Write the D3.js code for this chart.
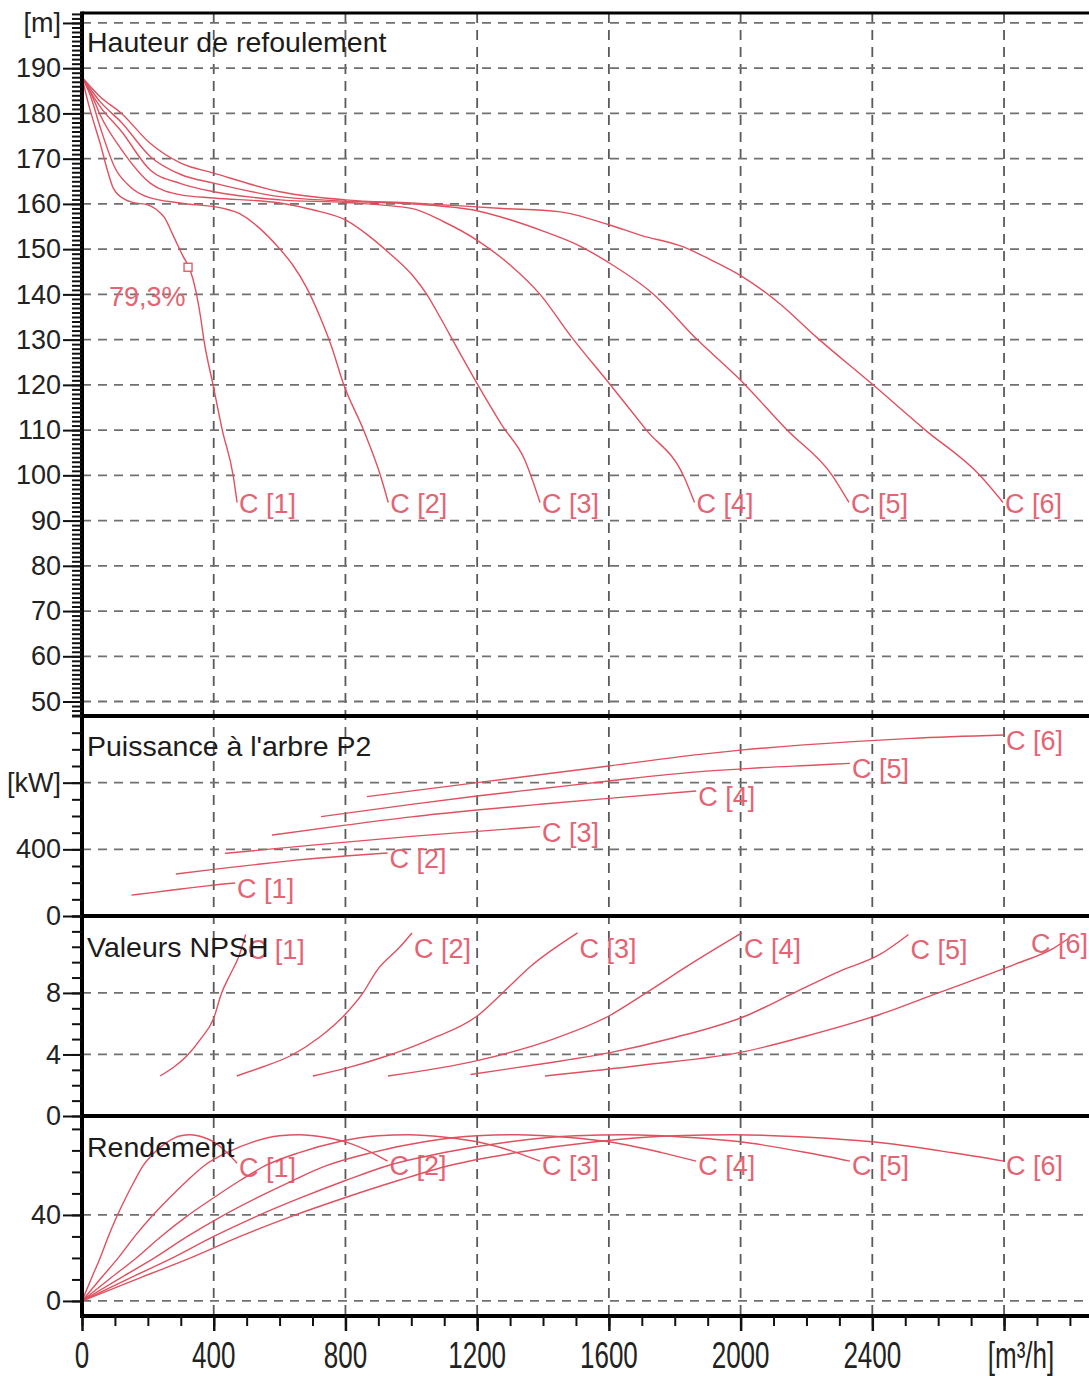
<!DOCTYPE html>
<html><head><meta charset="utf-8">
<script src="https://cdn.jsdelivr.net/npm/d3@7"></script>
<style>
body{margin:0;background:#fff}
text{font-family:"Liberation Sans",Arial,sans-serif}
</style>
</head><body>
<svg id="chart" width="1089" height="1376"></svg>
<script>
// ---------------- DATA ----------------
const seriesLabels = ["C [1]","C [2]","C [3]","C [4]","C [5]","C [6]"];
const panelTitles = ["Hauteur de refoulement","Puissance à l'arbre P2","Valeurs NPSH","Rendement"];

const xTickValues = [0,400,800,1200,1600,2000,2400,2800];
const xTickLabels = ["0","400","800","1200","1600","2000","2400","[m³/h]"];

const headTickValues = [50,60,70,80,90,100,110,120,130,140,150,160,170,180,190,200];
const headTickLabels = ["50","60","70","80","90","100","110","120","130","140","150","160","170","180","190","[m]"];
const powerTickValues = [0,400,800];
const powerTickLabels = ["0","400","[kW]"];
const npshTickValues = [0,4,8];
const npshTickLabels = ["0","4","8"];
const effTickValues = [0,40];
const effTickLabels = ["0","40"];

// Head [m] vs Q [m3/h]
const headC1 = [[0,188],[20,182],[40,177],[55,173.4],[75,168],[95,163.5],[130,161],[156,160.3],[200,159.8],[227,158.7],[250,157],[277,153],[307,148.4],[328,145.5],[345,141],[360,135],[370,130],[398,120],[426,110],[459,100],[471,94]];
const headC2 = [[0,188],[25,184],[55,177],[100,168],[146,163.8],[200,161.5],[298,160.2],[429,159],[480,157.8],[530,155.2],[601,150],[640,146.5],[682,141.5],[723,135],[760,128],[793,120.4],[855,110],[906,100],[930,94]];
const headC3 = [[0,188],[30,184],[55,179.7],[120,172],[207,164.6],[300,162],[400,161.3],[601,160.2],[700,158.7],[804,156.3],[870,153],[935,149],[1006,144],[1047,140],[1087,135],[1140,128],[1199,120.4],[1276,111],[1344,103.5],[1391,94]];
const headC4 = [[0,188],[55,181.5],[120,176],[207,167.5],[300,164.5],[400,162.7],[601,160.9],[800,160.3],[1000,159],[1100,156],[1199,152],[1300,146.5],[1391,140],[1482,131],[1600,120.4],[1714,110],[1828,99.7],[1860,94]];
const headC5 = [[0,188],[55,182.6],[120,178],[207,170.5],[300,166.5],[400,164.6],[601,161.6],[800,160.6],[1000,160],[1199,158.5],[1300,156.5],[1400,154],[1503,151],[1600,147],[1731,140.3],[1868,130],[2000,121],[2141,110],[2278,100],[2329,94]];
const headC6 = [[0,188],[55,183.7],[120,180],[207,173.4],[300,169],[400,166.8],[601,162.7],[800,160.9],[1000,160.2],[1276,159],[1447,158.3],[1600,155.4],[1700,153],[1822,150.6],[1900,148],[2004,144],[2118,138],[2231,130.5],[2396,120.4],[2561,110],[2720,100.5],[2797,94]];

// Shaft power P2 [kW]
const powC1 = [[150,125],[220,142],[300,162],[380,181],[465,198]];
const powC2 = [[285,252],[400,280],[500,302],[650,335],[800,360],[928,378]];
const powC3 = [[434,376],[700,425],[1000,478],[1200,508],[1391,536]];
const powC4 = [[577,486],[800,545],[1000,595],[1200,636],[1400,672],[1600,706],[1865,750]];
const powC5 = [[726,596],[1000,670],[1200,720],[1400,765],[1600,810],[1877,866],[2029,886],[2232,906],[2332,916]];
const powC6 = [[865,716],[1200,800],[1600,900],[1877,970],[2000,995],[2340,1046],[2520,1066],[2800,1086]];

// NPSH [m]
const npC1 = [[237,2.6],[280,3.2],[318,3.9],[360,5.0],[399,6.3],[424,8.0],[450,9.2],[475,10.3],[497,11.8]];
const npC2 = [[470,2.6],[550,3.2],[632,3.9],[720,5.1],[799,6.6],[850,7.9],[897,9.5],[966,11.0],[1002,11.9]];
const npC3 = [[701,2.6],[800,3.1],[925,3.9],[1060,5.0],[1200,6.5],[1277,8.0],[1361,9.7],[1505,11.9]];
const npC4 = [[929,2.6],[1200,3.6],[1431,5.0],[1600,6.5],[1713,8.0],[1850,9.9],[2004,11.9]];
const npC5 = [[1180,2.7],[1400,3.4],[1600,4.1],[1800,5.1],[2015,6.5],[2162,8.0],[2300,9.4],[2423,10.5],[2510,11.8]];
const npC6 = [[1406,2.6],[1700,3.3],[2015,4.2],[2200,5.2],[2423,6.6],[2600,8.0],[2838,9.9],[2950,10.9],[3000,11.6]];

// Efficiency [%]
const effC1 = [[0,0],[30,11],[55,20],[80,30],[105,39],[133,48],[160,56],[186,63],[220,69],[260,74],[300,76.8],[330,77.3],[370,76],[400,74],[440,69],[471,64]];
const effC2 = [[0,0],[60,11],[110,20],[160,30],[210,39],[266,48],[320,56],[372,63],[440,69],[520,74],[600,76.8],[660,77.3],[740,76],[800,74],[880,69],[928,65]];
const effC3 = [[0,0],[90,11],[165,20],[240,30],[315,39],[400,48],[480,56],[558,63],[660,69],[780,74],[900,76.8],[990,77.3],[1110,76],[1200,74],[1320,69],[1391,65]];
const effC4 = [[0,0],[120,11],[220,20],[320,30],[420,39],[532,48],[640,56],[744,63],[880,69],[1040,74],[1200,76.8],[1320,77.3],[1480,76],[1600,74],[1760,69],[1865,65]];
const effC5 = [[0,0],[150,11],[275,20],[400,30],[525,39],[665,48],[800,56],[930,63],[1100,69],[1300,74],[1500,76.8],[1650,77.3],[1850,76],[2000,74],[2200,69],[2332,65]];
const effC6 = [[0,0],[180,11],[330,20],[480,30],[630,39],[798,48],[960,56],[1116,63],[1320,69],[1560,74],[1800,76.8],[1980,77.3],[2220,76],[2400,74],[2640,69],[2800,65]];

// Best efficiency point marker on C [1]
const bepQ = 322;
const bepHead = 146;
const bepLabel = "79,3%";

// ---------------- LAYOUT ----------------
const svg = d3.select("#chart");
const X0 = 82, X1 = 1089;
const RED = "#e0505f", LABEL_RED = "#e46473";

const x = d3.scaleLinear().domain([0, 3058]).range([X0, X1]);
const yHead = d3.scaleLinear().domain([46.8, 202.2]).range([716, 13]);
const yPow  = d3.scaleLinear().domain([0, 1200]).range([916, 716]);
const yNpsh = d3.scaleLinear().domain([0, 13]).range([1116, 916]);
const yEff  = d3.scaleLinear().domain([-7, 86]).range([1316, 1116]);

const panels = [
  {y:yHead, ticks:headTickValues, labels:headTickLabels, grid:headTickValues, minor:d3.range(47,203,1),
   series:[headC1,headC2,headC3,headC4,headC5,headC6], title:panelTitles[0], titleY:52, dy:11},
  {y:yPow, ticks:powerTickValues, labels:powerTickLabels, grid:[400,800], minor:d3.range(0,1201,100),
   series:[powC1,powC2,powC3,powC4,powC5,powC6], title:panelTitles[1], titleY:756, dy:15},
  {y:yNpsh, ticks:npshTickValues, labels:npshTickLabels, grid:[4,8], minor:d3.range(0,14,1),
   series:[npC1,npC2,npC3,npC4,npC5,npC6], title:panelTitles[2], titleY:957, dy:25},
  {y:yEff, ticks:effTickValues, labels:effTickLabels, grid:[0,40], minor:d3.range(0,81,10),
   series:[effC1,effC2,effC3,effC4,effC5,effC6], title:panelTitles[3], titleY:1157, dy:14}
];

// ---- gridlines ----
const gGrid = svg.append("g");
xTickValues.filter(v => v > 0).forEach(v => {
  gGrid.append("line").attr("x1", x(v)).attr("x2", x(v)).attr("y1", 13).attr("y2", 1316)
    .attr("stroke", "#5a5a5a").attr("stroke-width", 1.8).attr("stroke-dasharray", "10,7");
});
panels.forEach(p => {
  p.grid.forEach(v => {
    gGrid.append("line").attr("x1", X0).attr("x2", X1).attr("y1", p.y(v)).attr("y2", p.y(v))
      .attr("stroke", "#707070").attr("stroke-width", 1.8).attr("stroke-dasharray", "9,7");
  });
});

// ---- curves ----
const gCurves = svg.append("g");
panels.forEach((p, pi) => {
  const line = d3.line().x(d => x(d[0])).y(d => p.y(d[1])).curve(d3.curveMonotoneX);
  p.series.forEach((s, si) => {
    gCurves.append("path").attr("d", line(s)).attr("fill", "none")
      .attr("stroke", RED).attr("stroke-width", 1.4);
    const end = s[s.length - 1];
    const ex = x(end[0]), ey = p.y(end[1]);
    const t = gCurves.append("text").text(seriesLabels[si])
      .attr("font-size", 27).attr("fill", LABEL_RED);
    if (ex + 60 > X1) {
      t.attr("x", X1 - 1).attr("y", ey + 15).attr("text-anchor", "end");
    } else {
      t.attr("x", ex + 2).attr("y", ey + p.dy);
    }
  });
});

// BEP marker
gCurves.append("rect").attr("x", x(bepQ) - 4).attr("y", yHead(bepHead) - 4).attr("width", 8).attr("height", 8)
  .attr("fill", "#fff").attr("stroke", RED).attr("stroke-width", 1.3);
gCurves.append("text").text(bepLabel).attr("x", 109).attr("y", 306)
  .attr("font-size", 27).attr("fill", LABEL_RED);

// ---- frame lines ----
const gFrame = svg.append("g");
gFrame.append("line").attr("x1", X0).attr("x2", X1).attr("y1", 13).attr("y2", 13).attr("stroke", "#000").attr("stroke-width", 3);
[716, 916, 1116, 1316].forEach(yv => {
  gFrame.append("line").attr("x1", X0).attr("x2", X1).attr("y1", yv).attr("y2", yv).attr("stroke", "#000").attr("stroke-width", 4);
});
gFrame.append("line").attr("x1", X0).attr("x2", X0).attr("y1", 11.5).attr("y2", 1318).attr("stroke", "#000").attr("stroke-width", 4);

// ---- left axes ----
panels.forEach(p => {
  const minorAxis = d3.axisLeft(p.y).tickValues(p.minor).tickSize(10).tickFormat("");
  const gm = svg.append("g").attr("transform", `translate(${X0},0)`).call(minorAxis);
  gm.select(".domain").remove();
  gm.selectAll(".tick line").attr("stroke", "#111").attr("stroke-width", 2);

  const majorAxis = d3.axisLeft(p.y).tickValues(p.ticks).tickSize(19).tickPadding(2)
    .tickFormat((d, i) => p.labels[i]);
  const g = svg.append("g").attr("transform", `translate(${X0},0)`).call(majorAxis);
  g.select(".domain").remove();
  g.selectAll(".tick line").attr("stroke", "#111").attr("stroke-width", 2);
  g.selectAll(".tick text").attr("font-size", 27).attr("fill", "#222")
    .attr("font-family", '"Liberation Sans",Arial,sans-serif');
});

// ---- bottom axis ----
const xMinor = d3.axisBottom(x).tickValues(d3.range(0, 3058, 100)).tickSize(10).tickFormat("");
const gxm = svg.append("g").attr("transform", "translate(0,1316)").call(xMinor);
gxm.select(".domain").remove();
gxm.selectAll(".tick line").attr("stroke", "#111").attr("stroke-width", 2);
const xMajor = d3.axisBottom(x).tickValues(xTickValues).tickSize(15).tickFormat("");
const gx = svg.append("g").attr("transform", "translate(0,1316)").call(xMajor);
gx.select(".domain").remove();
gx.selectAll(".tick line").attr("stroke", "#111").attr("stroke-width", 2.5);
xTickValues.forEach((v, i) => {
  svg.append("text").text(xTickLabels[i])
    .attr("transform", `translate(${x(v) + (i === xTickLabels.length - 1 ? 17 : 0)},1368) scale(1,1.4)`)
    .attr("text-anchor", "middle").attr("font-size", 26).attr("fill", "#222");
});

// ---- panel titles ----
panels.forEach(p => {
  svg.append("text").text(p.title).attr("x", 87).attr("y", p.titleY)
    .attr("font-size", 28.5).attr("fill", "#1c1c1c");
});
</script>
</body></html>
